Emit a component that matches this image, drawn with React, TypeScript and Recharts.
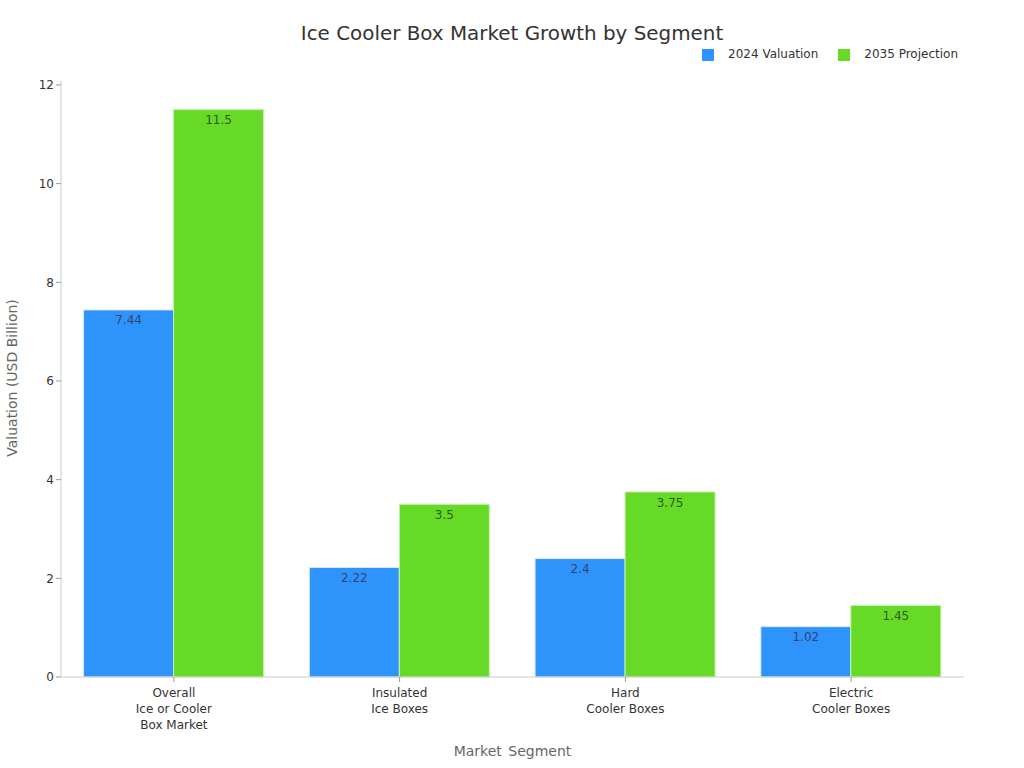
import { BarChart, Bar, XAxis, YAxis, Legend, LabelList } from "recharts"

const categories = ["Overall\nIce or Cooler\nBox Market", "Insulated\nIce Boxes", "Hard\nCooler Boxes", "Electric\nCooler Boxes"]
const valuation2024 = [7.44, 2.22, 2.4, 1.02]
const projection2035 = [11.5, 3.5, 3.75, 1.45]
const yTicks = [0, 2, 4, 6, 8, 10, 12]

const data = categories.map((name, i) => ({
  name,
  valuation: valuation2024[i],
  projection: projection2035[i],
}))

const FONT = "'DejaVu Sans', sans-serif"

// eslint-disable-next-line @typescript-eslint/no-explicit-any
function CategoryTick({ x, y, payload }: any) {
  return (
    <text x={x} y={y} textAnchor="middle" fontSize={12} fontFamily={FONT} fill="#333">
      {String(payload.value).split("\n").map((line, i) => (
        <tspan key={i} x={x} y={y + 13 + i * 16}>{line}</tspan>
      ))}
    </text>
  )
}

export default function App() {
  return (
    <div style={{ position: "absolute", left: 0, top: 0, width: 1024, height: 768, background: "#fff" }}>
      <BarChart
        width={1024}
        height={768}
        data={data}
        margin={{ top: 67, right: 60, bottom: 0, left: 1 }}
        barCategoryGap="10%"
        barGap={0}
      >
        <text x={512} y={40} textAnchor="middle" fontSize={19.9} fontFamily={FONT} fill="#333">
          Ice Cooler Box Market Growth by Segment
        </text>
        <text x={512.5} y={756} textAnchor="middle" fontSize={14} wordSpacing={2} fontFamily={FONT} fill="#666">
          Market Segment
        </text>
        <text
          x={17}
          y={378}
          textAnchor="middle"
          fontSize={14}
          fontFamily={FONT}
          fill="#666"
          transform="rotate(-90 17 378)"
        >
          Valuation (USD Billion)
        </text>
        <XAxis
          dataKey="name"
          interval={0}
          height={91}
          tick={<CategoryTick />}
          tickLine={{ stroke: "#999" }}
          tickSize={5}
          axisLine={{ stroke: "#ccc" }}
        />
        <YAxis
          width={60}
          type="number"
          domain={[0, 12.08]}
          ticks={yTicks}
          tick={{ fontSize: 12, fill: "#333", fontFamily: FONT }}
          tickLine={{ stroke: "#999" }}
          tickSize={5}
          axisLine={{ stroke: "#ccc" }}
        />
        <Legend
          verticalAlign="top"
          align="right"
          iconType="square"
          iconSize={12}
          wrapperStyle={{ position: "absolute", top: 47, right: 46, left: "auto", width: "auto", fontSize: 12, fontFamily: FONT }}
          formatter={(value: string) => <span style={{ color: "#333", marginLeft: 10, marginRight: 10 }}>{value}</span>}
        />
        <Bar dataKey="valuation" name="2024 Valuation" fill="#2e93fa" stroke="#d8e8f4" strokeWidth={1} isAnimationActive={false}>
          <LabelList dataKey="valuation" position="insideTop" offset={6} fontSize={12} fontFamily={FONT} fill="#335" fillOpacity={0.85} />
        </Bar>
        <Bar dataKey="projection" name="2035 Projection" fill="#66da26" stroke="#c8efb4" strokeWidth={1} isAnimationActive={false}>
          <LabelList dataKey="projection" position="insideTop" offset={6} fontSize={12} fontFamily={FONT} fill="#2f5a20" />
        </Bar>
      </BarChart>
    </div>
  )
}
